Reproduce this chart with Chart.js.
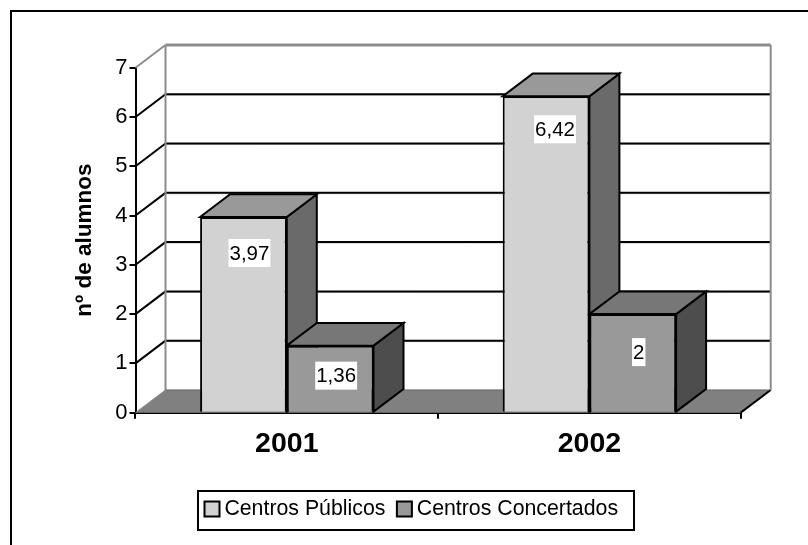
<!DOCTYPE html>
<html>
<head>
<meta charset="utf-8">
<style>
  html, body { margin: 0; padding: 0; background: #fff; }
  #wrap { position: relative; width: 808px; height: 545px; }
</style>
<script src="https://cdn.jsdelivr.net/npm/chart.js@4"></script>
</head>
<body>
<div id="wrap"><canvas id="chart" width="808" height="545"></canvas></div>
<script>
const categories = ['2001', '2002'];
const seriesNames = ['Centros Públicos', 'Centros Concertados'];
const publicos = [3.97, 6.42];
const concertados = [1.36, 2];
const yTicks = [0, 1, 2, 3, 4, 5, 6, 7];

const DEPTH_X = 30;
const DEPTH_Y = 22.7;
const FONT = '"Liberation Sans", Arial, sans-serif';

// colours of the 3d faces, one entry per series
const frontColors = ['#d2d2d2', '#999999'];
const topColors = ['#999999', '#777777'];
const sideColors = ['#6a6a6a', '#4d4d4d'];

// where each value label sits, measured from the top centre of its bar
const labelOffsets = [
    [[6, 36], [9, 33]],
    [[6, 30], [6, 38]]
];

function poly(ctx, pts, fill, stroke, width) {
    ctx.beginPath();
    pts.forEach((p, i) => i ? ctx.lineTo(p[0], p[1]) : ctx.moveTo(p[0], p[1]));
    ctx.closePath();
    if (fill) { ctx.fillStyle = fill; ctx.fill(); }
    if (stroke) { ctx.strokeStyle = stroke; ctx.lineWidth = width; ctx.lineJoin = 'miter'; ctx.stroke(); }
}

function line(ctx, x1, y1, x2, y2, color, width) {
    ctx.beginPath();
    ctx.moveTo(x1, y1);
    ctx.lineTo(x2, y2);
    ctx.strokeStyle = color;
    ctx.lineWidth = width;
    ctx.stroke();
}

const depthPlugin = {
    id: 'depth',
    afterLayout(chart) {
        // the legend does not sit in the middle of the picture
        chart.legend.left = 193;
        chart.legend.top = 481.2;
    },
    beforeDraw(chart) {
        // outer frame, only its left and top edges are in the picture
        const ctx = chart.ctx;
        ctx.save();
        ctx.strokeStyle = '#000';
        ctx.lineWidth = 2;
        ctx.beginPath();
        ctx.moveTo(11, 545);
        ctx.lineTo(11, 11);
        ctx.lineTo(808, 11);
        ctx.stroke();
        ctx.restore();
    },
    beforeDatasetsDraw(chart) {
        const ctx = chart.ctx;
        const xs = chart.scales.x;
        const ys = chart.scales.y;
        const left = xs.left, right = xs.right;
        const base = ys.getPixelForValue(0);
        const top = ys.getPixelForValue(yTicks[yTicks.length - 1]);
        ctx.save();

        // floor
        poly(ctx, [[left, base], [right, base], [right + DEPTH_X, base - DEPTH_Y], [left + DEPTH_X, base - DEPTH_Y]], '#808080');
        line(ctx, right, base, right + DEPTH_X, base - DEPTH_Y, '#000', 2);
        line(ctx, left + DEPTH_X, base - DEPTH_Y, right + DEPTH_X, base - DEPTH_Y, '#666', 1);
        line(ctx, left, base, left + DEPTH_X, base - DEPTH_Y, '#8c8c8c', 1);

        // gridlines on the side wall and the back wall
        yTicks.slice(1, -1).forEach(v => {
            const y = ys.getPixelForValue(v);
            line(ctx, left, y, left + DEPTH_X, y - DEPTH_Y, '#000', 2);
            line(ctx, left + DEPTH_X, y - DEPTH_Y + 1, right + DEPTH_X, y - DEPTH_Y + 1, '#c8c8c8', 1);
            line(ctx, left + DEPTH_X, y - DEPTH_Y, right + DEPTH_X, y - DEPTH_Y, '#000', 2);
        });

        // wall outline
        line(ctx, left, top, left + DEPTH_X, top - DEPTH_Y, '#8c8c8c', 2);
        line(ctx, left + DEPTH_X, top - DEPTH_Y, right + DEPTH_X, top - DEPTH_Y, '#8c8c8c', 3);
        line(ctx, left + DEPTH_X, top - DEPTH_Y, left + DEPTH_X, base - DEPTH_Y, '#8c8c8c', 2);
        line(ctx, right + DEPTH_X, top - DEPTH_Y, right + DEPTH_X, base - DEPTH_Y, '#8c8c8c', 2);

        // top and side of every bar, the front comes from the library
        categories.forEach((c, i) => {
            chart.data.datasets.forEach((ds, d) => {
                const bar = chart.getDatasetMeta(d).data[i];
                const l = bar.x - bar.width / 2, r = bar.x + bar.width / 2;
                const t = bar.y, b = bar.base;
                poly(ctx, [[r, t], [r + DEPTH_X, t - DEPTH_Y], [r + DEPTH_X, b - DEPTH_Y], [r, b]], sideColors[d], '#000', 2);
                poly(ctx, [[l, t], [l + DEPTH_X, t - DEPTH_Y], [r + DEPTH_X, t - DEPTH_Y], [r, t]], topColors[d], '#000', 2);
            });
        });
        ctx.restore();
    },
    afterDatasetsDraw(chart) {
        // value labels sit on a white box inside the front face
        const ctx = chart.ctx;
        ctx.save();
        ctx.font = '20.5px ' + FONT;
        ctx.textAlign = 'center';
        ctx.textBaseline = 'middle';
        chart.data.datasets.forEach((ds, d) => {
            chart.getDatasetMeta(d).data.forEach((bar, i) => {
                const text = String(ds.data[i]).replace('.', ',');
                const w = ctx.measureText(text).width + 2;
                const cx = bar.x + labelOffsets[d][i][0];
                const cy = bar.y + labelOffsets[d][i][1];
                ctx.fillStyle = '#fff';
                ctx.fillRect(cx - w / 2, cy - 14, w, 28);
                ctx.fillStyle = '#000';
                ctx.fillText(text, cx, cy + 1);
            });
        });
        ctx.restore();
    },
    afterDraw(chart) {
        // frame round the legend
        const ctx = chart.ctx;
        ctx.save();
        ctx.strokeStyle = '#000';
        ctx.lineWidth = 2;
        ctx.strokeRect(198, 491, 436, 39);
        ctx.restore();
    }
};

new Chart(document.getElementById('chart'), {
    type: 'bar',
    data: {
        labels: categories,
        datasets: [
            { label: seriesNames[0], data: publicos, backgroundColor: frontColors[0], borderColor: '#000', borderWidth: 2 },
            { label: seriesNames[1], data: concertados, backgroundColor: frontColors[1], borderColor: '#000', borderWidth: 2 }
        ]
    },
    plugins: [depthPlugin],
    options: {
        responsive: false,
        animation: false,
        devicePixelRatio: 1,
        categoryPercentage: 0.573,
        barPercentage: 1,
        layout: { padding: { left: 71, right: 67.3, top: 67.7, bottom: 23.8 } },
        plugins: {
            title: { display: false },
            tooltip: { enabled: false },
            legend: {
                position: 'bottom',
                align: 'start',
                labels: {
                    color: '#000',
                    font: { family: FONT, size: 21.3 },
                    usePointStyle: true,
                    pointStyle: 'rect',
                    boxWidth: 3.5,
                    boxHeight: 15,
                    padding: 17.25
                }
            }
        },
        scales: {
            x: {
                afterFit(s) { s.height = 60; },
                grid: { drawOnChartArea: false, color: '#000', lineWidth: 2, tickLength: 6, offset: true },
                border: { color: '#000', width: 2 },
                ticks: { color: '#000', font: { family: FONT, size: 28.5, weight: 'bold' }, padding: 8 }
            },
            y: {
                min: 0,
                max: 7,
                afterFit(s) { s.width = 64.5; },
                grid: { drawOnChartArea: false, color: '#000', lineWidth: 2, tickLength: 6 },
                border: { color: '#000', width: 2 },
                title: { display: true, text: 'nº de alumnos', color: '#000', font: { family: FONT, size: 22.5, weight: 'bold' }, padding: 0 },
                ticks: { color: '#000', stepSize: 1, font: { family: FONT, size: 22 }, padding: 2 }
            }
        }
    }
});
</script>
</body>
</html>
